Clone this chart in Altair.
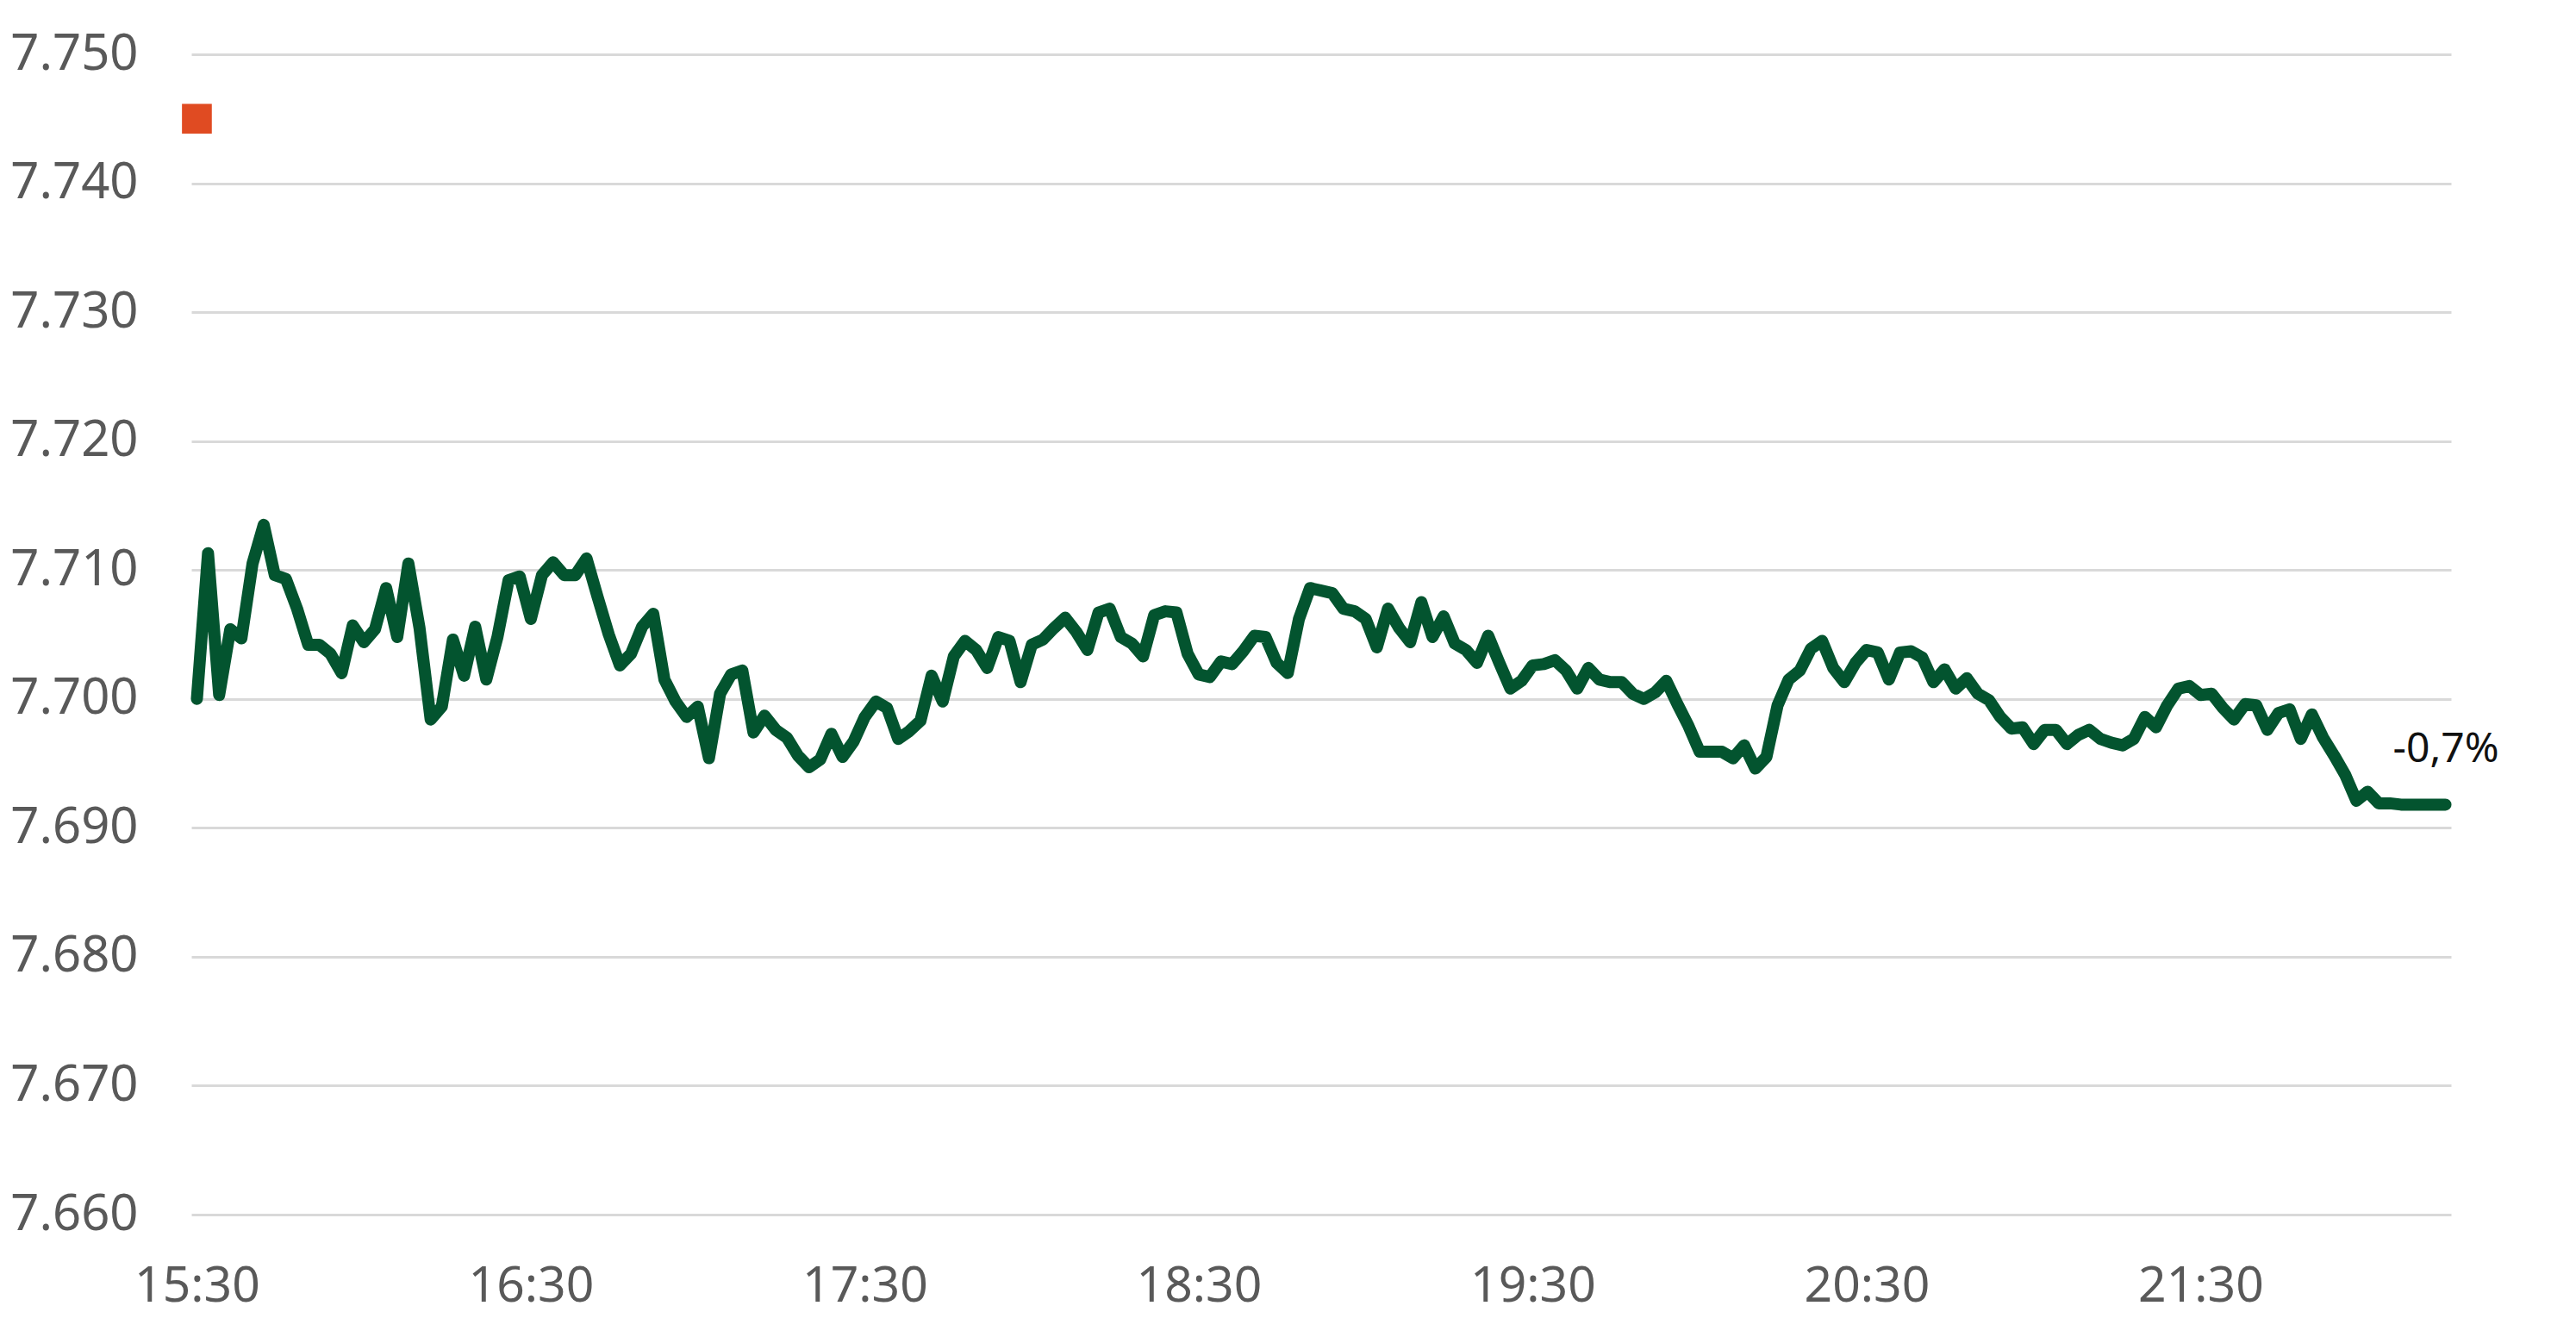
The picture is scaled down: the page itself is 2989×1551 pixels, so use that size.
import altair as alt
import pandas as pd

# Index level, sampled every 2 minutes from 15:30
START_MIN = 15 * 60 + 30
STEP_MIN = 2
values = [
    7700.0, 7711.3, 7700.3, 7705.4, 7704.7, 7710.5, 7713.5, 7709.6, 7709.3, 7707.0,
    7704.2, 7704.2, 7703.5, 7702.0, 7705.7, 7704.4, 7705.4, 7708.6, 7704.8, 7710.5,
    7705.5, 7698.4, 7699.4, 7704.6, 7701.8, 7705.6, 7701.5, 7704.8, 7709.2, 7709.5,
    7706.2, 7709.6, 7710.6, 7709.6, 7709.6, 7710.9, 7707.9, 7705.0, 7702.6, 7703.5,
    7705.6, 7706.6, 7701.5, 7699.8, 7698.6, 7699.4, 7695.4, 7700.4, 7701.9, 7702.2,
    7697.4, 7698.7, 7697.6, 7697.0, 7695.6, 7694.7, 7695.3, 7697.3, 7695.5, 7696.7,
    7698.6, 7699.8, 7699.3, 7696.9, 7697.5, 7698.3, 7701.8, 7699.8, 7703.3, 7704.5,
    7703.8, 7702.4, 7704.8, 7704.5, 7701.3, 7704.2, 7704.6, 7705.5, 7706.3, 7705.2,
    7703.8, 7706.7, 7707.0, 7704.8, 7704.3, 7703.3, 7706.5, 7706.8, 7706.7, 7703.5,
    7701.9, 7701.7, 7702.9, 7702.7, 7703.7, 7704.9, 7704.8, 7702.8, 7702.0, 7706.2,
    7708.6, 7708.4, 7708.2, 7707.0, 7706.8, 7706.2, 7704.0, 7707.0, 7705.5, 7704.4,
    7707.5, 7704.8, 7706.4, 7704.3, 7703.8, 7702.8, 7704.9, 7702.8, 7700.8, 7701.4,
    7702.6, 7702.7, 7703.0, 7702.2, 7700.8, 7702.4, 7701.5, 7701.3, 7701.3, 7700.4,
    7700.0, 7700.5, 7701.4, 7699.6, 7697.9, 7695.9, 7695.9, 7695.9, 7695.4, 7696.4,
    7694.6, 7695.5, 7699.5, 7701.5, 7702.2, 7703.9, 7704.5, 7702.4, 7701.3, 7702.8,
    7703.8, 7703.6, 7701.5, 7703.6, 7703.7, 7703.2, 7701.3, 7702.3, 7700.8, 7701.6,
    7700.4, 7699.9, 7698.6, 7697.7, 7697.8, 7696.5, 7697.6, 7697.6, 7696.5, 7697.2,
    7697.6, 7696.9, 7696.6, 7696.4, 7696.9, 7698.6, 7697.8, 7699.5, 7700.8, 7701.0,
    7700.3, 7700.4, 7699.3, 7698.4, 7699.6, 7699.5, 7697.6, 7698.9, 7699.2, 7696.9,
    7698.8, 7697.0, 7695.6, 7694.1, 7692.1, 7692.8, 7691.9, 7691.9, 7691.8, 7691.8,
    7691.8, 7691.8, 7691.8,
]
minutes = [START_MIN + STEP_MIN * i for i in range(len(values))]

# Reference marker (previous close) and change label
marker_minute = [START_MIN]
marker_value = [7745.0]
change_label = ["-0,7%"]

y_ticks = [7660, 7670, 7680, 7690, 7700, 7710, 7720, 7730, 7740, 7750]
x_ticks = [930, 990, 1050, 1110, 1170, 1230, 1290]

df = pd.DataFrame({"minute": minutes, "value": values})
df_marker = pd.DataFrame({"minute": marker_minute, "value": marker_value})
df_label = pd.DataFrame({"minute": [minutes[-1]], "value": [values[-1]], "label": change_label})

FONT = "Noto Sans"
x_scale = alt.Scale(domain=[929, 1335], nice=False, zero=False)
y_scale = alt.Scale(domain=[7660, 7750], nice=False, zero=False)

x_axis = alt.Axis(
    values=x_ticks,
    labelExpr="floor(datum.value/60) + ':' + (datum.value % 60 < 10 ? '0' : '') + (datum.value % 60)",
    grid=False, domain=False, ticks=False, title=None,
    labelFont=FONT, labelFontSize=57, labelColor="#595959", labelPadding=55,
)
y_axis = alt.Axis(
    values=y_ticks,
    labelExpr="replace(format(datum.value, ','), ',', '.')",
    grid=True, gridColor="#d9d9d9", gridWidth=3,
    domain=False, ticks=False, title=None,
    labelFont=FONT, labelFontSize=58, labelColor="#595959", labelPadding=62,
)

line = alt.Chart(df).mark_line(
    color="#03542F", strokeWidth=14, strokeCap="round", strokeJoin="round"
).encode(
    x=alt.X("minute:Q", scale=x_scale, axis=x_axis),
    y=alt.Y("value:Q", scale=y_scale, axis=y_axis),
)

marker = alt.Chart(df_marker).mark_point(
    shape="square", filled=True, size=1200, color="#E04B22", opacity=1
).encode(
    x=alt.X("minute:Q", scale=x_scale),
    y=alt.Y("value:Q", scale=y_scale),
)

label = alt.Chart(df_label).mark_text(
    align="left", baseline="middle", dx=-61, dy=-63,
    font=FONT, fontSize=48, color="#111111"
).encode(
    x=alt.X("minute:Q", scale=x_scale),
    y=alt.Y("value:Q", scale=y_scale),
    text="label:N",
)

chart = alt.layer(line, marker, label).properties(
    width=2622,
    height=1346,
    autosize=alt.AutoSizeParams(type="none"),
    padding={"left": 214, "top": 55, "right": 130, "bottom": 130},
    background="white",
).configure_view(stroke=None)

chart.save("out.html", embed_options={"renderer": "svg", "actions": False})
